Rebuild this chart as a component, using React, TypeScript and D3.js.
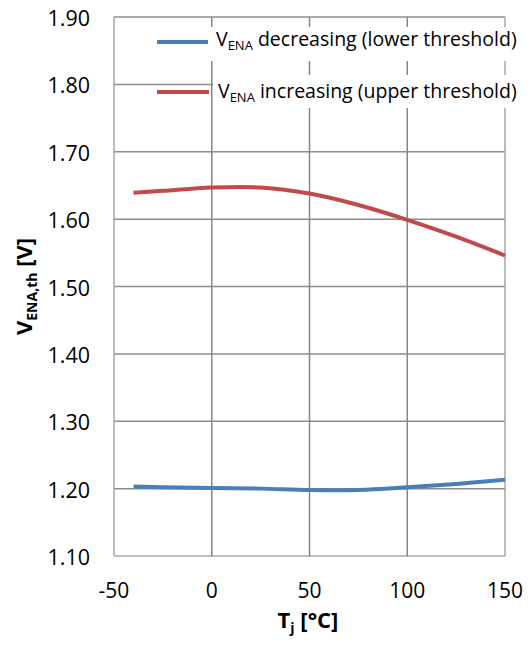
import React from 'react'
import * as d3 from 'd3'

// temperature points (°C)
const temps = [-40, -25, 0, 25, 50, 75, 100, 125, 150]
// V_ENA decreasing (lower threshold)
const lowerVals = [1.203, 1.202, 1.201, 1.2, 1.198, 1.198, 1.202, 1.207, 1.213]
// V_ENA increasing (upper threshold)
const upperVals = [1.639, 1.642, 1.647, 1.647, 1.638, 1.621, 1.599, 1.574, 1.546]

const xTicks = [-50, 0, 50, 100, 150]
const yTicks = [1.1, 1.2, 1.3, 1.4, 1.5, 1.6, 1.7, 1.8, 1.9]

const font = '"Open Sans", sans-serif'

export default function App() {
  const width = 529,
    height = 647
  const left = 114,
    right = 505,
    top = 17,
    bottom = 556

  const x = d3.scaleLinear().domain([-50, 150]).range([left, right])
  const y = d3.scaleLinear().domain([1.1, 1.9]).range([bottom, top])

  const line = d3
    .line<number>()
    .x((d, i) => x(temps[i]))
    .y(d => y(d))
    .curve(d3.curveCatmullRom.alpha(0.5))

  const blue = '#4a7ebb'
  const red = '#be4b48'

  return (
    <svg
      width={width}
      height={height}
      style={{ position: 'absolute', left: 0, top: 0, background: '#fff' }}
    >
      {/* horizontal grid */}
      {yTicks.map((t, i) => (
        <line
          key={'h' + i}
          x1={left}
          x2={right}
          y1={y(t)}
          y2={y(t)}
          stroke={i === 0 ? '#a6a6a6' : '#8c8c8c'}
          strokeWidth={1.5}
        />
      ))}
      {/* vertical grid */}
      {xTicks.map((t, i) => (
        <line
          key={'v' + i}
          x1={x(t)}
          x2={x(t)}
          y1={top}
          y2={bottom}
          stroke={i === 0 || i === xTicks.length - 1 ? '#a6a6a6' : '#868686'}
          strokeWidth={1.5}
        />
      ))}

      {/* legend boxes */}
      <rect x={150} y={27} width={379} height={34} fill="#fff" />
      <rect x={213} y={75} width={316} height={33} fill="#fff" />
      <line x1={157} x2={208} y1={42} y2={42} stroke={blue} strokeWidth={4} />
      <line x1={157} x2={209} y1={92} y2={92} stroke={red} strokeWidth={4} />
      <text x={216} y={46} fontFamily={font} fontSize={19.5} fill="#000">
        V<tspan fontSize={13} dy={4}>ENA</tspan>
        <tspan dy={-4}> decreasing (lower threshold)</tspan>
      </text>
      <text x={218} y={98} fontFamily={font} fontSize={19.5} fill="#000">
        V<tspan fontSize={13} dy={4}>ENA</tspan>
        <tspan dy={-4}> increasing (upper threshold)</tspan>
      </text>

      {/* series */}
      <path d={line(upperVals) || ''} fill="none" stroke={red} strokeWidth={4} />
      <path d={line(lowerVals) || ''} fill="none" stroke={blue} strokeWidth={4} />

      {/* y tick labels */}
      {yTicks.map((t, i) => (
        <text
          key={'yl' + i}
          x={90}
          y={y(t) + 9}
          textAnchor="end"
          fontFamily={font}
          fontSize={21.5}
          fill="#000"
        >
          {t.toFixed(2)}
        </text>
      ))}
      {/* x tick labels */}
      {xTicks.map((t, i) => (
        <text
          key={'xl' + i}
          x={x(t)}
          y={598}
          textAnchor="middle"
          fontFamily={font}
          fontSize={21}
          fill="#000"
        >
          {t}
        </text>
      ))}

      {/* axis titles */}
      <text
        x={308}
        y={628}
        textAnchor="middle"
        fontFamily={font}
        fontSize={22}
        fontWeight="bold"
        fill="#000"
      >
        T<tspan fontSize={14} dy={5}>j</tspan>
        <tspan dy={-5}> [°C]</tspan>
      </text>
      <text
        transform={`translate(32, ${(top + bottom) / 2}) rotate(-90)`}
        textAnchor="middle"
        fontFamily={font}
        fontSize={22}
        fontWeight="bold"
        fill="#000"
      >
        V<tspan fontSize={14} dy={5}>ENA,th</tspan>
        <tspan dy={-5}> [V]</tspan>
      </text>
    </svg>
  )
}
